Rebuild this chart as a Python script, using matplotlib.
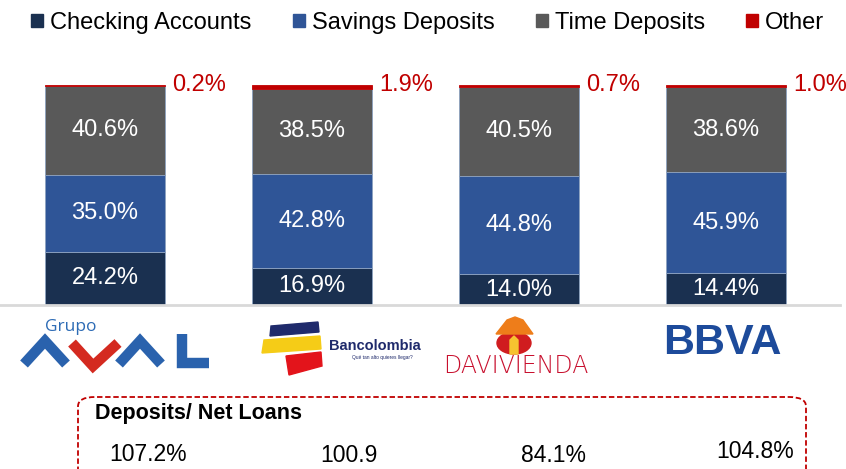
import matplotlib
matplotlib.use("Agg")
import matplotlib.pyplot as plt
import numpy as np
from matplotlib.patches import Patch, Polygon, FancyBboxPatch, Ellipse
from matplotlib.lines import Line2D

banks = ["Grupo Aval", "Bancolombia", "Davivienda", "BBVA"]
checking = [24.2, 16.9, 14.0, 14.4]
savings = [35.0, 42.8, 44.8, 45.9]
time_dep = [40.6, 38.5, 40.5, 38.6]
other = [0.2, 1.9, 0.7, 1.0]
dep_loans = ["107.2%", "100.9", "84.1%", "104.8%"]

series_names = ["Checking Accounts", "Savings Deposits", "Time Deposits", "Other"]
colors = ["#1a3050", "#2f5597", "#595959", "#c00000"]

plt.rcParams["font.family"] = ["Liberation Sans", "DejaVu Sans"]

W, H = 846, 469
fig = plt.figure(figsize=(W / 100, H / 100), dpi=100)


def px(x, y):
    return (x / W, 1 - y / H)


ax = fig.add_axes([0, (H - 305) / H, 840 / W, 245 / H])
x = np.arange(len(banks))
width = 0.58
bottom = np.zeros(len(banks))
for vals, c in zip([checking, savings, time_dep, other], colors):
    ec = c if c == "#c00000" else "#8da2c0"
    ax.bar(x, vals, width, bottom=bottom, color=c, edgecolor=ec, linewidth=0.6)
    bottom += np.array(vals)

bottom = np.zeros(len(banks))
for vals in [checking, savings, time_dep]:
    for i, v in enumerate(vals):
        ax.text(x[i], bottom[i] + v / 2, f"{v:.1f}%", ha="center", va="center",
                color="white", fontsize=17)
    bottom += np.array(vals)
for i, v in enumerate(other):
    ax.text(x[i] + width / 2 + 0.035, bottom[i] + v, f"{v:.1f}%", ha="left",
            va="center", color="#c00000", fontsize=17)

ax.set_xlim(-105 / 207, 735 / 207)
ax.set_ylim(0, 111.4)
for s in ["top", "right", "left"]:
    ax.spines[s].set_visible(False)
ax.spines["bottom"].set_color("#d9d9d9")
ax.spines["bottom"].set_linewidth(2)
ax.set_xticks([])
ax.set_yticks([])

handles = [Patch(color=c) for c in colors]
fig.legend(handles, series_names, loc="upper left", bbox_to_anchor=(0.012, 1.02),
           ncol=4, frameon=False, fontsize=17, handlelength=0.5, handleheight=0.5,
           handletextpad=0.3, columnspacing=1.75)

# Grupo Aval logo
fig.text(*px(45, 327), "Grupo", color="#2d6bb5", fontsize=12.5, va="center",
         family=["Open Sans", "DejaVu Sans"])
for pts, c in [([(24, 364), (45, 341), (66, 364)], "#2a62ad"),
               ([(72, 343), (93, 366), (118, 343)], "#d42a20"),
               ([(119, 364), (140, 341), (161, 364)], "#2a62ad"),
               ([(182, 334), (182, 363), (209, 363)], "#2a62ad")]:
    xs, ys = zip(*[px(a, b) for a, b in pts])
    fig.add_artist(Line2D(xs, ys, color=c, linewidth=7.5, solid_joinstyle="miter",
                          solid_capstyle="butt"))

# Bancolombia logo
for pts, c in [([(271, 326), (318, 322), (319, 332), (270, 336)], "#1f2a6b"),
               ([(264, 340), (320, 336), (321, 349), (262, 353)], "#f5cc17"),
               ([(286, 356), (321, 352), (322, 366), (289, 375)], "#e3141b")]:
    fig.add_artist(Polygon([px(a, b) for a, b in pts], closed=True, color=c))
fig.text(*px(329, 346), "Bancolombia", color="#1f2a6b", fontsize=10.5,
         fontweight="bold", va="center")
fig.text(*px(352, 357), "Qué tan alto quieres llegar?", color="#1f2a6b", fontsize=3.5,
         va="center")

# Davivienda logo
fig.add_artist(Ellipse(px(514, 343), 34 / W, 22 / H, color="#d01c1f"))
fig.add_artist(Polygon([px(a, b) for a, b in [(496, 334), (507, 320), (515, 317),
                                                  (523, 320), (533, 334)]],
                       closed=True, color="#ee7d1a"))
fig.add_artist(Polygon([px(a, b) for a, b in [(510, 354), (510, 340), (514, 336),
                                                  (518, 340), (518, 354)]],
                       closed=True, color="#f6c330"))
fig.text(*px(516, 366), "DAVIVIENDA", color="#c8102e", fontsize=17, ha="center",
         va="center", fontweight="light", family=["DejaVu Sans"])

# BBVA logo
fig.text(*px(722, 343), "BBVA", color="#1d4b9b", fontsize=31, ha="center", va="center",
         fontweight="bold")

# Deposits / Net Loans box
box = FancyBboxPatch(px(78, 490), 728 / W, 93 / H, boxstyle="round,pad=0,rounding_size=0.02",
                     transform=fig.transFigure, fill=False, edgecolor="#c00000",
                     linestyle=(0, (3, 1.5)), linewidth=1.3)
fig.add_artist(box)
fig.text(*px(95, 413), "Deposits/ Net Loans", fontsize=15.5, fontweight="bold",
         va="center")
for xp, yp, s in zip([148, 349, 553, 755], [454, 455, 455, 451], dep_loans):
    fig.text(*px(xp, yp), s, fontsize=16.5, ha="center", va="center")

fig.savefig("out.png", dpi=100)
